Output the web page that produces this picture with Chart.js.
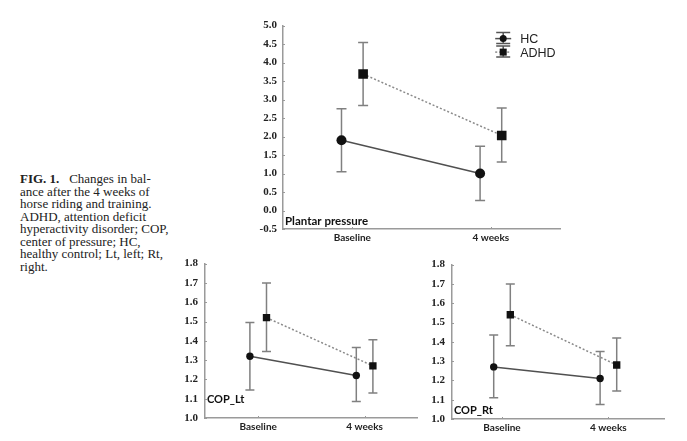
<!DOCTYPE html>
<html>
<head>
<meta charset="utf-8">
<script src="https://cdn.jsdelivr.net/npm/chart.js@4"></script>
<style>
  body { margin: 0; background: #fff; width: 687px; height: 441px; position: relative; overflow: hidden; }
  .panel { position: absolute; }
  #caption {
    position: absolute; left: 20px; top: 173px;
    font-family: "Liberation Serif", serif; font-size: 13px; line-height: 12.5px;
    color: #222; white-space: nowrap;
  }
</style>
</head>
<body>
<div id="caption">
  <b>FIG. 1.</b>&nbsp;&nbsp;&nbsp;Changes in bal-<br>
  ance after the 4 weeks of<br>
  horse riding and training.<br>
  ADHD, attention deficit<br>
  hyperactivity disorder; COP,<br>
  center of pressure; HC,<br>
  healthy control; Lt, left; Rt,<br>
  right.
</div>
<canvas id="plantar" class="panel" width="324" height="234" style="left:243px; top:13px;"></canvas>
<canvas id="copLt" class="panel" width="258" height="186" style="left:165px; top:250px;"></canvas>
<canvas id="copRt" class="panel" width="258" height="186" style="left:412px; top:251px;"></canvas>
<script>
// Data (mean, lower / upper error bar)
const categories = ['Baseline', '4 weeks'];
const groups = ['HC', 'ADHD'];

const plantarHC = [1.9, 1.0];
const plantarHCLow = [1.05, 0.27];
const plantarHCHigh = [2.75, 1.74];
const plantarADHD = [3.69, 2.03];
const plantarADHDLow = [2.84, 1.31];
const plantarADHDHigh = [4.54, 2.77];

const copLtHC = [1.32, 1.22];
const copLtHCLow = [1.145, 1.085];
const copLtHCHigh = [1.495, 1.365];
const copLtADHD = [1.52, 1.27];
const copLtADHDLow = [1.345, 1.13];
const copLtADHDHigh = [1.70, 1.405];

const copRtHC = [1.27, 1.21];
const copRtHCLow = [1.11, 1.075];
const copRtHCHigh = [1.435, 1.35];
const copRtADHD = [1.54, 1.28];
const copRtADHDLow = [1.38, 1.145];
const copRtADHDHigh = [1.70, 1.42];

// y axis tick ranges
const plantarTicks = { min: -0.5, max: 5.0, step: 0.5 };
const copTicks = { min: 1.0, max: 1.8, step: 0.1 };

const dodge = 0.078;
const axisGray = '#9a9a9a';
const barGray = '#808080';

function makePoints(mean, low, high, shift) {
  return categories.map(function (c, i) {
    return { x: i + shift, y: mean[i], low: low[i], high: high[i] };
  });
}

// error bars, inward ticks, panel label and legend
const errorBars = {
  id: 'errorBars',
  beforeDatasetsDraw(chart, args, opts) {
    const ctx = chart.ctx;
    const xs = chart.scales.x, ys = chart.scales.y;
    const area = chart.chartArea;
    ctx.save();
    ctx.strokeStyle = barGray;
    ctx.lineWidth = 1.5;
    chart.data.datasets.forEach(function (ds) {
      ds.data.forEach(function (p) {
        const px = xs.getPixelForValue(p.x);
        const top = ys.getPixelForValue(p.high);
        const bot = ys.getPixelForValue(p.low);
        ctx.beginPath();
        ctx.moveTo(px, top); ctx.lineTo(px, bot);
        ctx.moveTo(px - opts.cap, top); ctx.lineTo(px + opts.cap, top);
        ctx.moveTo(px - opts.cap, bot); ctx.lineTo(px + opts.cap, bot);
        ctx.stroke();
      });
    });
    // small tick marks inside the axes
    ctx.strokeStyle = axisGray;
    ctx.lineWidth = 1;
    ys.ticks.forEach(function (t) {
      const py = Math.round(ys.getPixelForValue(t.value)) + 0.5;
      ctx.beginPath(); ctx.moveTo(area.left, py); ctx.lineTo(area.left + 2, py); ctx.stroke();
    });
    xs.ticks.forEach(function (t) {
      const px = Math.round(xs.getPixelForValue(t.value)) + 0.5;
      ctx.beginPath(); ctx.moveTo(px, area.bottom); ctx.lineTo(px, area.bottom - 2); ctx.stroke();
    });
    ctx.restore();
  },
  afterDraw(chart, args, opts) {
    const ctx = chart.ctx;
    const area = chart.chartArea;
    ctx.save();
    ctx.fillStyle = '#111';
    ctx.font = 'bold ' + opts.titleSize + 'px Lato, sans-serif';
    ctx.textBaseline = 'middle';
    ctx.fillText(opts.title, area.left + 2, area.bottom - opts.titleLift);

    if (opts.legend) {
      const sx = area.right - 57;
      const rows = [area.top + 13, area.top + 26.5];
      ctx.font = '12.5px "Liberation Sans", Arial, sans-serif';
      chart.data.datasets.forEach(function (ds, i) {
        const cy = rows[i];
        ctx.strokeStyle = '#555';
        ctx.lineWidth = 1.5;
        ctx.beginPath();
        ctx.moveTo(sx, cy - 6); ctx.lineTo(sx, cy + 5);
        ctx.moveTo(sx - 7, cy - 6); ctx.lineTo(sx + 7, cy - 6);
        ctx.moveTo(sx - 7, cy + 5); ctx.lineTo(sx + 7, cy + 5);
        ctx.stroke();
        ctx.setLineDash(ds.borderDash || []);
        ctx.strokeStyle = ds.borderColor;
        ctx.beginPath(); ctx.moveTo(sx - 8, cy); ctx.lineTo(sx + 8, cy); ctx.stroke();
        ctx.setLineDash([]);
        ctx.fillStyle = '#111';
        if (ds.pointStyle === 'rect') {
          ctx.fillRect(sx - 3.5, cy - 3.5, 7, 7);
        } else {
          ctx.beginPath(); ctx.arc(sx, cy, 3.5, 0, Math.PI * 2); ctx.fill();
        }
        ctx.fillStyle = '#222';
        ctx.fillText(ds.label, sx + 17, cy + 1);
      });
    }
    ctx.restore();
  }
};

function drawPanel(id, hc, adhd, ticks, xRange, look) {
  const ctx = document.getElementById(id).getContext('2d');
  return new Chart(ctx, {
    type: 'line',
    data: {
      datasets: [{
        label: groups[0],
        data: makePoints(hc[0], hc[1], hc[2], -dodge),
        borderColor: '#505050',
        borderWidth: 1.5,
        pointStyle: 'circle',
        pointRadius: look.circle,
        pointBackgroundColor: '#111',
        pointBorderColor: '#111',
        pointBorderWidth: 0
      }, {
        label: groups[1],
        data: makePoints(adhd[0], adhd[1], adhd[2], dodge),
        borderColor: '#8a8a8a',
        borderWidth: 1.5,
        borderDash: [2, 2],
        pointStyle: 'rect',
        pointRadius: look.square,
        pointBackgroundColor: '#111',
        pointBorderColor: '#111',
        pointBorderWidth: 0
      }]
    },
    options: {
      responsive: false,
      animation: false,
      layout: { padding: { top: 10, right: 0, left: 0, bottom: 0 } },
      plugins: {
        legend: { display: false },
        tooltip: { enabled: false },
        errorBars: look
      },
      scales: {
        x: {
          type: 'linear',
          min: xRange[0],
          max: xRange[1],
          afterBuildTicks: function (scale) {
            scale.ticks = categories.map(function (c, i) { return { value: i }; });
          },
          afterFit: function (scale) { scale.height = 18; },
          ticks: {
            padding: 3,
            color: '#222',
            font: { family: 'Lato, sans-serif', weight: 'bold', size: 10 },
            callback: function (v) { return categories[v]; }
          },
          grid: { display: false, drawTicks: false },
          border: { color: axisGray, width: 1.5 }
        },
        y: {
          min: ticks.min,
          max: ticks.max,
          afterFit: function (scale) { scale.width = 40; },
          ticks: {
            stepSize: ticks.step,
            padding: look.tickPad,
            color: '#222',
            font: { family: '"Liberation Serif", serif', weight: 'bold', size: 11 },
            callback: function (v) { return v.toFixed(1); }
          },
          grid: { display: false, drawTicks: false },
          border: { color: axisGray, width: 1.5 }
        }
      }
    },
    plugins: [errorBars]
  });
}

drawPanel('plantar',
  [plantarHC, plantarHCLow, plantarHCHigh],
  [plantarADHD, plantarADHDLow, plantarADHDHigh],
  plantarTicks, [-0.5, 1.5],
  { cap: 5, circle: 5, square: 6.8, tickPad: 6, title: 'Plantar pressure', titleSize: 11.5, titleLift: 8, legend: true });

drawPanel('copLt',
  [copLtHC, copLtHCLow, copLtHCHigh],
  [copLtADHD, copLtADHDLow, copLtADHDHigh],
  copTicks, [-0.5, 1.5],
  { cap: 4.5, circle: 3.7, square: 5.2, tickPad: 7, title: 'COP_Lt', titleSize: 11, titleLift: 19, legend: false });

drawPanel('copRt',
  [copRtHC, copRtHCLow, copRtHCHigh],
  [copRtADHD, copRtADHDLow, copRtADHDHigh],
  copTicks, [-0.47, 1.53],
  { cap: 4.5, circle: 3.7, square: 5.2, tickPad: 7, title: 'COP_Rt', titleSize: 11, titleLift: 8.5, legend: false });
</script>
</body>
</html>
